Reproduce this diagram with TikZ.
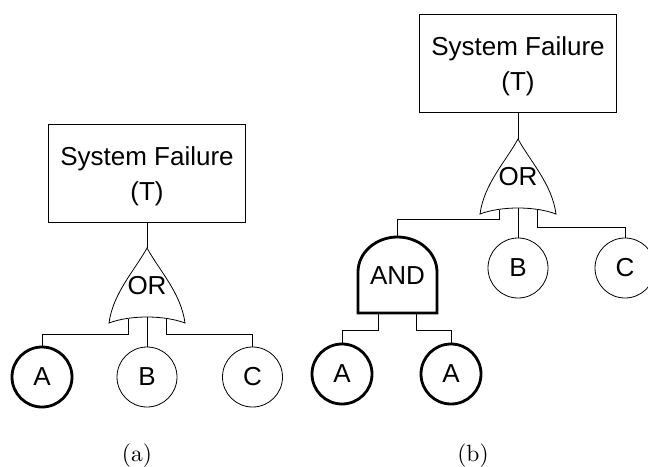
\documentclass[tikz,border=0pt]{standalone}
\usepackage{fontspec}
\newfontfamily\arialf{Liberation Sans}
\newfontfamily\capfont[Extension=.otf]{lmroman10-regular}
\newcommand\twolines[2]{\raisebox{0pt}[19pt][35pt]{\begin{tabular}[t]{@{}c@{}}#1\\#2\end{tabular}}}
\tikzset{
  thinline/.style={line width=0.8pt},
  thickline/.style={line width=2.8pt},
  sans/.style={font=\arialf\fontsize{26}{35}\selectfont},
  topbox/.style={draw, thinline, sans, minimum width=197pt, minimum height=98pt, inner sep=0pt},
  event/.style={circle, draw, thinline, sans, minimum size=60pt, inner sep=0pt},
  keyevent/.style={event, thickline},
  caption/.style={font=\capfont\fontsize{23.5}{28}\selectfont, anchor=base},
  orgate/.pic={
    \draw[thinline] (0,0) .. controls (-12,22) and (-34,45) .. (-38,75)
       .. controls (-17,67) and (17,67) .. (38,75)
       .. controls (34,45) and (12,22) .. cycle;
    \coordinate (-top) at (0,0);
    \coordinate (-l) at (-19,71);
    \coordinate (-m) at (0,69);
    \coordinate (-r) at (19,71);
    \node[sans, inner sep=0pt] (-t) at (0,38) {OR};
  }
}
\begin{document}
\begin{tikzpicture}[x=1pt,y=-1pt]
\useasboundingbox (0,0) rectangle (648,466);
% ---- (a)
\node[topbox] (topA) at (147,173) {\twolines{System Failure}{(T)}};
\pic (orA) at (147,248) {orgate};
\node[keyevent] (aA) at (42,377) {A};
\node[event] (aB) at (147,377) {B};
\node[event] (aC) at (252.5,377) {C};
\draw[thinline] (topA.south) -- (orA-top);
\draw[thinline] (orA-l) -- ++(0,15) -| (aA.north);
\draw[thinline] (orA-m) -- (aB.north);
\draw[thinline] (orA-r) -- ++(0,15) -| (aC.north);
% ---- (b)
\node[topbox] (topB) at (518,63.5) {\twolines{System Failure}{(T)}};
\pic (orB) at (518,139) {orgate};
\draw[thickline] (358,313) -- (358,272)
   .. controls (358,252.7) and (375.7,237) .. (397.5,237)
   .. controls (419.3,237) and (437,252.7) .. (437,272) -- (437,313) -- cycle;
\node[sans, inner sep=0pt] (andg) at (397.5,276) {AND};
\coordinate (andTop) at (397.5,237);
\coordinate (andL) at (378,313);
\coordinate (andR) at (416,313);
\node[event] (bB) at (518,268) {B};
\node[event] (bC) at (625,268) {C};
\node[keyevent] (bA1) at (342,374) {A};
\node[keyevent] (bA2) at (451,374) {A};
\draw[thinline] (topB.south) -- (orB-top);
\draw[thinline] (orB-l) -- ++(0,9) -| (andTop);
\draw[thinline] (orB-m) -- (bB.north);
\draw[thinline] (orB-r) -- ++(0,17) -| (bC.north);
\draw[thinline] (andL) -- ++(0,17) -| (bA1.north);
\draw[thinline] (andR) -- ++(0,17) -| (bA2.north);
% ---- captions
\node[caption] (capA) at (137,461) {(a)};
\node[caption] (capB) at (473,461) {(b)};
\end{tikzpicture}
\end{document}
